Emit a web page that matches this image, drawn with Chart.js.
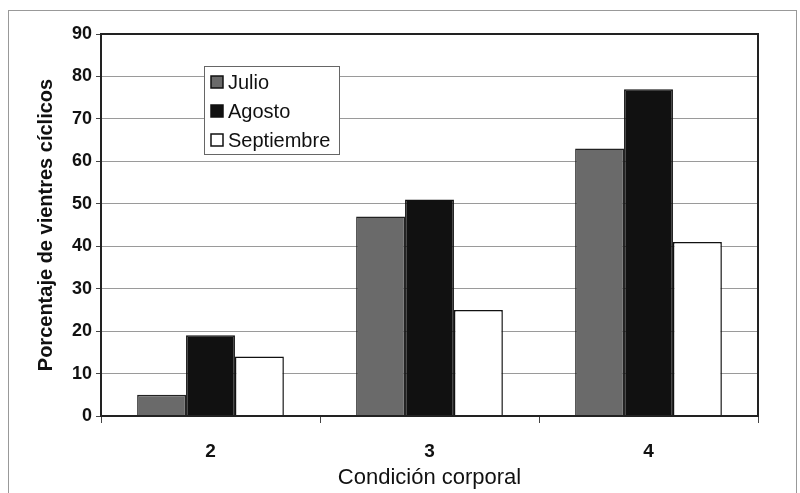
<!DOCTYPE html>
<html><head><meta charset="utf-8">
<script src="https://cdn.jsdelivr.net/npm/chart.js@4"></script>
<style>html,body{margin:0;padding:0;background:#fff}#c{display:block}</style>
</head><body>
<div style="width:800px;height:493px"><canvas id="c" width="800" height="493"></canvas></div>
<script>
const categories = ["2", "3", "4"];
const julio = [5, 47, 63];
const agosto = [19, 51, 77];
const septiembre = [14, 25, 41];
const yTicks = [0, 10, 20, 30, 40, 50, 60, 70, 80, 90];
const seriesNames = ["Julio", "Agosto", "Septiembre"];
const FONT = "'Liberation Sans', Arial, sans-serif";

const framePlugin = {
  id: 'frame',
  beforeDraw(chart) {
    const ctx = chart.ctx;
    ctx.save();
    ctx.fillStyle = '#fff';
    ctx.fillRect(0, 0, chart.width, chart.height);
    ctx.strokeStyle = '#999';
    ctx.lineWidth = 1;
    ctx.strokeRect(8.5, 10.5, 788, 490);
    ctx.restore();
  },
  afterDraw(chart) {
    const ctx = chart.ctx, a = chart.chartArea;
    ctx.save();
    ctx.strokeStyle = '#222';
    ctx.lineWidth = 2;
    ctx.strokeRect(a.left, a.top, a.right - a.left, a.bottom - a.top);
    // legend box
    const lx = 204, ly = 66, lw = 135, lh = 88;
    ctx.fillStyle = '#fff';
    ctx.fillRect(lx, ly, lw, lh);
    ctx.strokeStyle = '#666';
    ctx.lineWidth = 1;
    ctx.strokeRect(lx + 0.5, ly + 0.5, lw, lh);
    ctx.font = "20px " + FONT;
    ctx.textBaseline = 'middle';
    chart.data.datasets.forEach((ds, i) => {
      const y = ly + 16 + i * 29;
      ctx.fillStyle = ds.backgroundColor;
      ctx.fillRect(lx + 7, y - 6, 12, 12);
      ctx.strokeStyle = '#111';
      ctx.lineWidth = 1.5;
      ctx.strokeRect(lx + 7, y - 6, 12, 12);
      ctx.fillStyle = '#111';
      ctx.fillText(ds.label, lx + 24, y + 1);
    });
    ctx.restore();
  }
};

new Chart(document.getElementById('c'), {
  type: 'bar',
  data: {
    labels: categories,
    datasets: [
      { label: seriesNames[0], data: julio, backgroundColor: '#6a6a6a', borderColor: '#222', borderWidth: 1.5 },
      { label: seriesNames[1], data: agosto, backgroundColor: '#111111', borderColor: '#111', borderWidth: 1.5 },
      { label: seriesNames[2], data: septiembre, backgroundColor: '#ffffff', borderColor: '#111', borderWidth: 1.5 }
    ]
  },
  options: {
    responsive: false,
    animation: false,
    events: [],
    layout: { padding: { left: 30, right: 42, top: 34, bottom: 0 } },
    plugins: { legend: { display: false }, tooltip: { enabled: false } },
    datasets: { bar: { categoryPercentage: 0.67, barPercentage: 1.0 } },
    scales: {
      x: {
        offset: true,
        grid: { offset: true, drawOnChartArea: false, color: '#444', tickLength: 7 },
        border: { color: '#222', width: 2 },
        ticks: { color: '#111', font: { family: FONT, size: 19, weight: 'bold' }, padding: 17 },
        title: { display: true, text: 'Condición corporal', color: '#111', font: { family: FONT, size: 22 }, padding: { top: 0, bottom: 2 } },
        afterFit(s) { s.height = 77; }
      },
      y: {
        min: 0, max: 90,
        afterBuildTicks(s) { s.ticks = yTicks.map(v => ({ value: v })); },
        grid: { color: '#9a9a9a', lineWidth: 1, tickLength: 5, tickColor: '#444' },
        border: { color: '#222', width: 2 },
        ticks: { color: '#111', font: { family: FONT, size: 18, weight: 'bold' }, padding: 4 },
        title: { display: true, text: 'Porcentaje de vientres cíclicos', color: '#111', font: { family: FONT, size: 20, weight: 'bold' }, padding: { top: 4, bottom: 0 } },
        afterFit(s) { s.width = 71; }
      }
    }
  },
  plugins: [framePlugin]
});
</script>
</body></html>
